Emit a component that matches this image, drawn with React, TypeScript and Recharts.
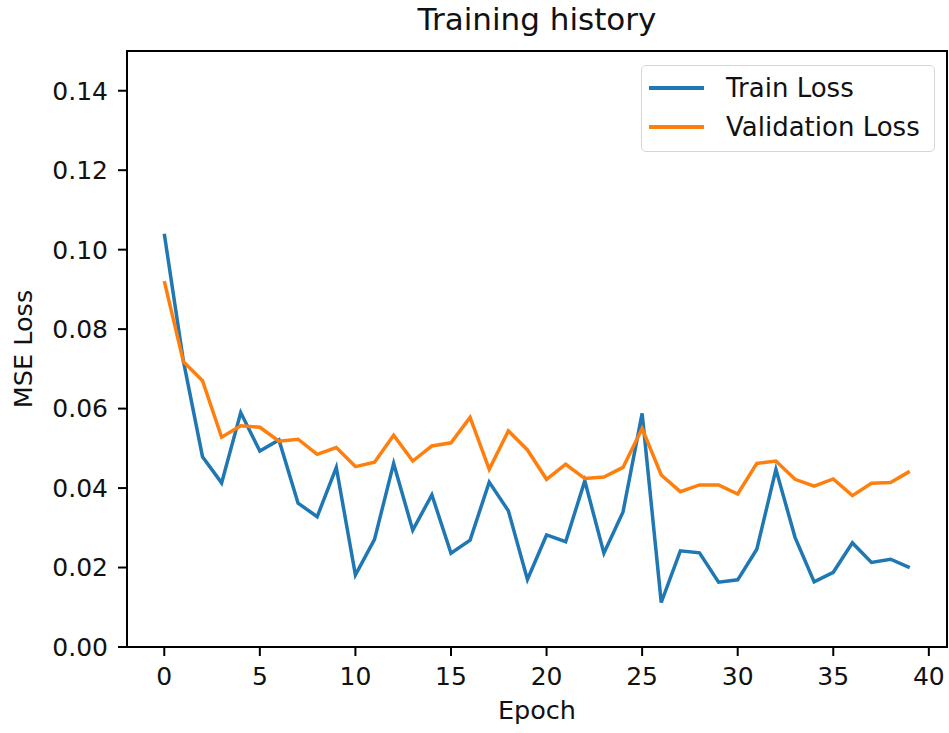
import { LineChart, Line, XAxis, YAxis, Legend, ReferenceArea } from 'recharts';

const FONT = '"DejaVu Sans", sans-serif';
const BLUE = '#1f77b4';
const ORANGE = '#ff7f0e';

// per-epoch losses
const epochs = [
  0, 1, 2, 3, 4, 5, 6, 7, 8, 9, 10, 11, 12, 13, 14, 15, 16, 17, 18, 19,
  20, 21, 22, 23, 24, 25, 26, 27, 28, 29, 30, 31, 32, 33, 34, 35, 36, 37, 38, 39,
];

const trainLoss = [
  0.104, 0.072, 0.0479, 0.0413, 0.059, 0.0493, 0.0521, 0.0362, 0.0328, 0.0452,
  0.0181, 0.0271, 0.0462, 0.0294, 0.0383, 0.0236, 0.0269, 0.0415, 0.0343, 0.017,
  0.0282, 0.0265, 0.0418, 0.0236, 0.034, 0.0588, 0.0112, 0.0242, 0.0237, 0.0163,
  0.0169, 0.0246, 0.0447, 0.0276, 0.0164, 0.0188, 0.0262, 0.0213, 0.0221, 0.02,
];

const valLoss = [
  0.0921, 0.0718, 0.067, 0.0528, 0.0557, 0.0553, 0.0518, 0.0523, 0.0485, 0.0502,
  0.0454, 0.0465, 0.0533, 0.0468, 0.0506, 0.0514, 0.0578, 0.0447, 0.0544, 0.0496,
  0.0422, 0.046, 0.0424, 0.0428, 0.0452, 0.055, 0.0433, 0.0391, 0.0408, 0.0408,
  0.0385, 0.0462, 0.0468, 0.0422, 0.0405, 0.0423, 0.0381, 0.0412, 0.0414, 0.0442,
];

const xTicks = [0, 5, 10, 15, 20, 25, 30, 35, 40];
const yTicks = [0, 0.02, 0.04, 0.06, 0.08, 0.1, 0.12, 0.14];
const X_DOMAIN: [number, number] = [-1.95, 40.95];
const Y_DOMAIN: [number, number] = [0, 0.15];

const series = [
  { key: 'train', name: 'Train Loss', color: BLUE },
  { key: 'val', name: 'Validation Loss', color: ORANGE },
];

const data = epochs.map((epoch, i) => ({ epoch, train: trainLoss[i], val: valLoss[i] }));

const tickStyle = { fontSize: 25, fontFamily: FONT, fill: '#111' };

function LegendBox() {
  return (
    <div
      style={{
        position: 'relative',
        width: 294,
        height: 87,
        boxSizing: 'border-box',
        border: '1.5px solid #d6d6d6',
        borderRadius: 5,
        background: 'rgba(255,255,255,0.8)',
        fontFamily: FONT,
        fontSize: 26,
        color: '#111',
      }}
    >
      {series.map((s, i) => (
        <div
          key={s.key}
          style={{
            position: 'absolute',
            left: 7,
            top: 22 + i * 39 - 16,
            height: 32,
            display: 'flex',
            alignItems: 'center',
            whiteSpace: 'nowrap',
          }}
        >
          <span style={{ display: 'inline-block', width: 55, height: 3.5, background: s.color, marginRight: 22 }} />
          <span>{s.name}</span>
        </div>
      ))}
    </div>
  );
}

export default function App() {
  return (
    <div style={{ position: 'absolute', left: 0, top: 0, width: 949, height: 733, background: '#fff' }}>
      <LineChart width={949} height={733} data={data} margin={{ top: 51, right: 2, bottom: 0, left: 0 }}>
        <text x={537} y={30} textAnchor="middle" fontSize={31} fontFamily={FONT} fill="#111">
          Training history
        </text>
        <XAxis
          type="number"
          dataKey="epoch"
          domain={X_DOMAIN}
          ticks={xTicks}
          allowDataOverflow
          height={86}
          axisLine={{ stroke: '#000', strokeWidth: 2 }}
          tickLine={{ stroke: '#000', strokeWidth: 2 }}
          tickSize={9}
          tickMargin={11}
          tick={tickStyle}
          label={{
            content: (props: any) => {
              const vb = props.viewBox;
              return (
                <text x={vb.x + vb.width / 2} y={vb.y + 72} textAnchor="middle" fontSize={25.5} fontFamily={FONT} fill="#111">
                  Epoch
                </text>
              );
            },
          }}
        />
        <YAxis
          type="number"
          domain={Y_DOMAIN}
          ticks={yTicks}
          allowDataOverflow
          width={127}
          axisLine={{ stroke: '#000', strokeWidth: 2 }}
          tickLine={{ stroke: '#000', strokeWidth: 2 }}
          tickSize={9}
          tickMargin={10}
          tick={tickStyle}
          tickFormatter={(v: number) => v.toFixed(2)}
          label={{
            content: (props: any) => {
              const vb = props.viewBox;
              const cx = vb.x + 23;
              const cy = vb.y + vb.height / 2;
              return (
                <text
                  x={cx}
                  y={cy}
                  transform={`rotate(-90, ${cx}, ${cy})`}
                  textAnchor="middle"
                  dominantBaseline="central"
                  fontSize={25.5}
                  fontFamily={FONT}
                  fill="#111"
                >
                  MSE Loss
                </text>
              );
            },
          }}
        />
        {/* full frame around the plot area */}
        <ReferenceArea
          x1={X_DOMAIN[0]}
          x2={X_DOMAIN[1]}
          y1={Y_DOMAIN[0]}
          y2={Y_DOMAIN[1]}
          fill="none"
          stroke="#000"
          strokeWidth={2}
          ifOverflow="visible"
        />
        {series.map((s) => (
          <Line
            key={s.key}
            type="linear"
            dataKey={s.key}
            name={s.name}
            stroke={s.color}
            strokeWidth={3.5}
            dot={false}
            isAnimationActive={false}
          />
        ))}
        <Legend
          layout="horizontal"
          verticalAlign="middle"
          align="center"
          content={() => <LegendBox />}
          wrapperStyle={{ position: 'absolute', left: 641, top: 65, width: 294, height: 87 }}
        />
      </LineChart>
    </div>
  );
}
